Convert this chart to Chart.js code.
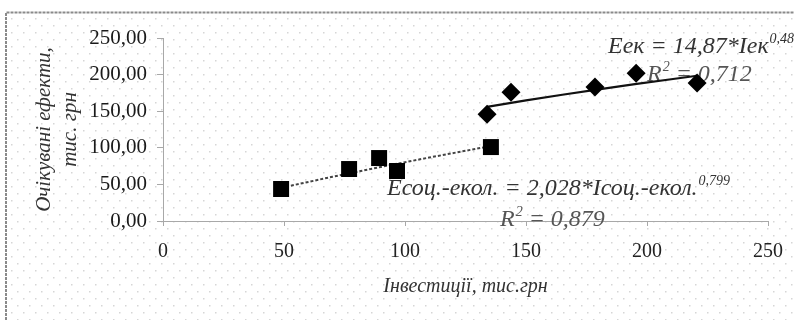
<!doctype html>
<html lang="uk">
  <head>
    <meta charset="utf-8">
    <title>Інвестиції та очікувані ефекти</title>
    <script src="https://cdn.jsdelivr.net/npm/chart.js@4.4.0/dist/chart.umd.min.js"></script>
    <style>
      body { margin: 0; background: #fff; }
      #wrap { width: 794px; height: 320px; }
    </style>
  </head>
  <body>
    <div id="wrap"><canvas id="effects" width="794" height="320"></canvas></div>

    <script>
    // соціально-екологічні інвестиції (квадрати)
    var socX = [48.8, 76.9, 89.3, 96.7, 135.5];
    var socY = [43.7, 71.0, 86.0, 68.3, 101.0];
    // екологічні інвестиції (ромби)
    var ekX = [133.9, 143.8, 178.5, 195.5, 220.7];
    var ekY = [146.0, 176.0, 183.0, 202.0, 188.5];
    // лінії тренду, точки
    var socTrendX = [48.8, 70, 90, 110, 135.5];
    var socTrendY = [45.4, 60.4, 73.9, 86.7, 102.4];
    var ekTrendX = [133.9, 150, 165, 180, 195, 210, 220.7];
    var ekTrendY = [156.0, 164.8, 172.5, 179.8, 186.9, 193.6, 198.4];
    // підписи осей
    var xTicks = [0, 50, 100, 150, 200, 250];
    var yTickLabels = ['0,00', '50,00', '100,00', '150,00', '200,00', '250,00'];

    function pts(xs, ys) {
      var out = [];
      for (var i = 0; i < xs.length; i++) out.push({x: xs[i], y: ys[i]});
      return out;
    }

    var serif = '"Liberation Serif", "Times New Roman", serif';

    // крапчастий фон і рамка
    var paperBg = {
      id: 'paperBg',
      beforeDraw: function (chart) {
        var c = chart.ctx;
        c.save();
        c.fillStyle = '#fff';
        c.fillRect(0, 0, chart.width, chart.height);
        c.fillStyle = '#d6d6d6';
        var row = 0;
        for (var y = 18; y < chart.height; y += 7, row++) {
          var off = (row % 2) ? 6 : 0;
          for (var x = 11 + off; x < chart.width; x += 12) {
            c.fillRect(x, y, 1.5, 1.5);
          }
        }
        c.strokeStyle = '#8a8a8a';
        c.lineWidth = 2;
        c.setLineDash([3, 1]);
        c.beginPath();
        c.moveTo(6, chart.height);
        c.lineTo(6, 12.5);
        c.lineTo(chart.width, 12.5);
        c.stroke();
        c.restore();
      }
    };

    function eqText(c, x, y, main, sup, size) {
      c.font = 'italic ' + size + 'px ' + serif;
      c.textBaseline = 'alphabetic';
      c.fillText(main, x, y);
      var w = c.measureText(main).width;
      if (sup) {
        c.font = 'italic ' + Math.round(size * 0.6) + 'px ' + serif;
        c.fillText(sup, x + w + 1, y - size * 0.4);
        w += c.measureText(sup).width + 1;
      }
      return w;
    }

    // рівняння трендів
    var equations = {
      id: 'equations',
      beforeDatasetsDraw: function (chart) {
        var c = chart.ctx;
        c.save();
        c.fillStyle = '#333';
        eqText(c, 608, 53, 'Еек = 14,87*Іек', '0,48', 24);
        c.fillStyle = '#555';
        var w = eqText(c, 647, 81, 'R', '2', 24);
        c.font = 'italic 24px ' + serif;
        c.fillText(' = 0,712', 647 + w, 81);
        c.fillStyle = '#333';
        eqText(c, 387, 195, 'Ėсоц.-екол. = 2,028*Ісоц.-екол.', '0,799', 24);
        c.fillStyle = '#555';
        w = eqText(c, 500, 226, 'R', '2', 24);
        c.font = 'italic 24px ' + serif;
        c.fillText(' = 0,879', 500 + w, 226);
        c.restore();
      }
    };

    var ctx = document.getElementById('effects');
    var myChart = new Chart(ctx, {
      type: 'scatter',
      data: {
        datasets: [
          {
            label: 'соц.-екол.',
            data: pts(socX, socY),
            pointStyle: 'rect',
            pointRadius: 11.3,
            pointHoverRadius: 11.3,
            backgroundColor: '#000',
            borderColor: '#000',
            borderWidth: 0,
            order: 0
          },
          {
            label: 'ек',
            data: pts(ekX, ekY),
            pointStyle: 'rectRot',
            pointRadius: 9.5,
            pointHoverRadius: 9.5,
            backgroundColor: '#000',
            borderColor: '#000',
            borderWidth: 0,
            order: 0
          },
          {
            label: 'тренд соц.-екол.',
            data: pts(socTrendX, socTrendY),
            showLine: true,
            pointRadius: 0,
            borderColor: '#444',
            borderWidth: 2,
            borderDash: [3, 2],
            order: 1
          },
          {
            label: 'тренд ек',
            data: pts(ekTrendX, ekTrendY),
            showLine: true,
            pointRadius: 0,
            borderColor: '#111',
            borderWidth: 2.2,
            order: 1
          }
        ]
      },
      options: {
        responsive: false,
        animation: false,
        events: [],
        layout: { padding: { top: 38, right: 26, left: 0, bottom: 0 } },
        plugins: { legend: { display: false }, tooltip: { enabled: false } },
        scales: {
          x: {
            type: 'linear',
            min: 0,
            max: 250,
            afterFit: function (s) {
              s.height = 99;
              s.paddingLeft = 0;
              s.paddingRight = 15;
            },
            afterBuildTicks: function (s) {
              s.ticks = xTicks.map(function (v) { return {value: v}; });
            },
            border: { display: true, color: '#a8a8a8', width: 1, dash: [2, 1] },
            grid: { drawOnChartArea: false, drawTicks: true, tickLength: 5, color: '#a8a8a8' },
            ticks: {
              color: '#222',
              padding: 14,
              maxRotation: 0,
              font: { family: serif, size: 20 },
              callback: function (v) { return String(v); }
            },
            title: {
              display: true,
              text: 'Інвестиції, тис.грн',
              color: '#333',
              padding: { top: 0, bottom: 21 },
              font: { family: serif, size: 20, style: 'italic', lineHeight: 1.2 }
            }
          },
          y: {
            type: 'linear',
            min: 0,
            max: 250,
            afterFit: function (s) { s.width = 163; },
            border: { display: true, color: '#a8a8a8', width: 1, dash: [2, 1] },
            grid: { drawOnChartArea: false, drawTicks: true, tickLength: 6, color: '#a8a8a8' },
            ticks: {
              stepSize: 50,
              color: '#1a1a1a',
              padding: 10,
              font: { family: serif, size: 21 },
              callback: function (v, i) { return yTickLabels[i]; }
            },
            title: {
              display: true,
              text: ['Очікувані ефекти,', 'тис. грн'],
              color: '#333',
              padding: { top: 31, bottom: 0 },
              font: { family: serif, size: 21, style: 'italic', lineHeight: 1.24 }
            }
          }
        }
      },
      plugins: [paperBg, equations]
    });
    </script>
  </body>
</html>
